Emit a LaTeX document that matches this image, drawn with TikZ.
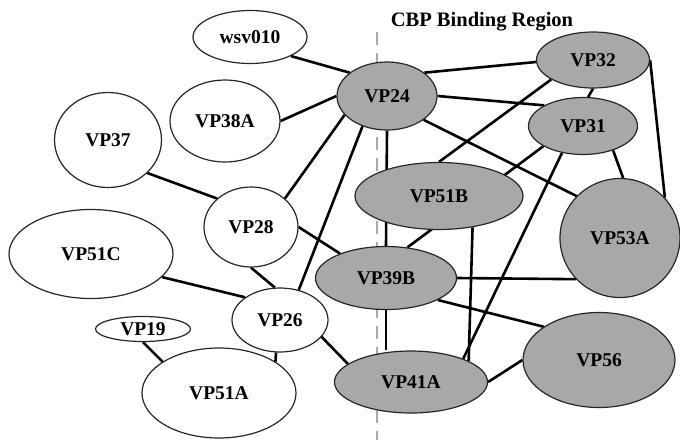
\documentclass[tikz,border=0pt]{standalone}
\usepackage{fontspec}
\setmainfont{Liberation Serif}
\usetikzlibrary{shapes.geometric}
\pgfdeclarelayer{background}
\pgfsetlayers{background,main}
\definecolor{nodegray}{RGB}{168,168,168}
\definecolor{dashgray}{RGB}{170,170,170}
\tikzset{
  prot/.style={ellipse, draw=black!85, line width=1.2pt, inner sep=0pt,
    font=\fontsize{19.5}{20}\selectfont\bfseries},
  wprot/.style={prot, fill=white},
  gprot/.style={prot, fill=nodegray},
  link/.style={line width=2.6pt, black},
  region/.style={line width=2pt, dashgray, dash pattern=on 13pt off 8pt}
}
\begin{document}
\begin{tikzpicture}[x=1pt,y=-1pt]
\useasboundingbox (0,0) rectangle (680,440);
% nodes
\node[wprot, minimum width=114pt, minimum height=53pt] (wsv) at (250,37) {wsv010};
\node[wprot, minimum width=110pt, minimum height=82pt] (VP38A) at (225,121) {VP38A};
\node[wprot, minimum width=107pt, minimum height=95pt] (VP37) at (108,140) {VP37};
\node[wprot, minimum width=94pt, minimum height=80pt] (VP28) at (251,227) {VP28};
\node[wprot, minimum width=164pt, minimum height=89pt] (VP51C) at (91,254) {VP51C};
\node[wprot, minimum width=96pt, minimum height=64pt] (VP26) at (280,320) {VP26};
\node[wprot, minimum width=95pt, minimum height=25pt] (VP19) at (143,329) {VP19};
\node[wprot, minimum width=154pt, minimum height=90pt] (VP51A) at (219,393) {VP51A};
\node[gprot, minimum width=100pt, minimum height=68pt] (VP24) at (387,96) {VP24};
\node[gprot, minimum width=113pt, minimum height=56pt] (VP32) at (593,60) {VP32};
\node[gprot, minimum width=109pt, minimum height=57pt] (VP31) at (583,126) {VP31};
\node[gprot, minimum width=168pt, minimum height=67pt] (VP51B) at (439,196) {VP51B};
\node[gprot, minimum width=120pt, minimum height=119pt] (VP53A) at (620,238) {VP53A};
\node[gprot, minimum width=141pt, minimum height=63pt] (VP39B) at (386,278) {VP39B};
\node[gprot, minimum width=152pt, minimum height=95pt] (VP56) at (599,360) {VP56};
\node[gprot, minimum width=153pt, minimum height=62pt] (VP41A) at (411,382) {VP41A};
% title
\node[font=\fontsize{20.5}{21}\selectfont\bfseries] (title) at (482,22) {CBP Binding Region};
\coordinate (dtop) at (377,32);
\coordinate (dbot) at (377,440);
\begin{pgfonlayer}{background}
\draw[region] (dtop) -- (dbot);
\draw[link] (wsv.-25) -- (VP24.148);
\draw[link] (VP38A.east) -- (VP24.west);
\draw[link] (VP37.-40) -- (VP28.140);
\draw[link] (VP24.204) -- (VP28.40);
\draw[link] (VP24.231) -- (VP26.58);
\draw[link] (VP24.south) -- (VP39B.north);
\draw[link] (VP24.32) -- (VP32.182);
\draw[link] (VP24.east) -- (VP31.152);
\draw[link] (VP24.-33) -- (VP53A.136);
\draw[link] (VP32.south) -- (VP31.80);
\draw[link] (VP32.205) -- (VP51B.north);
\draw[link] (VP32.east) -- (VP53A.42);
\draw[link] (VP31.-39) -- (VP53A.87);
\draw[link] (VP31.207) -- (VP39B.55);
\draw[link] (VP31.232) -- (VP41A.24);
\draw[link] (VP51B.-43) -- (VP41A.20);
\draw[link] (VP28.east) -- (VP39B.152);
\draw[link] (VP39B.east) -- (VP53A.223);
\draw[link] (VP39B.-23) -- (VP56.149);
\draw[link] (VP39B.south) -- (VP41A.north -| VP39B.south);
\draw[link] (VP41A.east) -- (VP56.west);
\draw[link] (VP26.-22) -- (VP41A.164);
\draw[link] (VP26.263) -- (VP51A.29);
\draw[link] (VP19.south) -- (VP51A.151);
\draw[link] (VP51C.-18) -- (VP26.147);
\draw[link] (VP28.south) -- (VP26.99);
\end{pgfonlayer}
\end{tikzpicture}
\end{document}
